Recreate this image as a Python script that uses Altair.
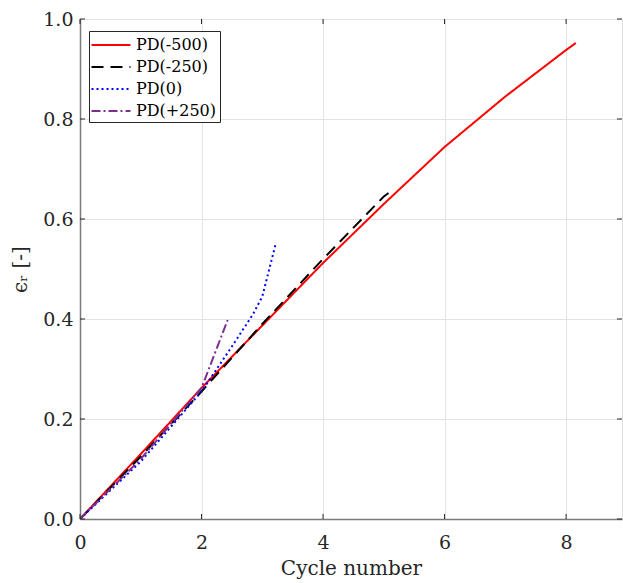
import altair as alt
import pandas as pd

# ---- data ----
x_m500 = [0, 1, 2, 3, 4, 5, 6, 7, 8, 8.16]
y_m500 = [0, 0.13, 0.262, 0.387, 0.512, 0.63, 0.744, 0.845, 0.938, 0.952]

x_m250 = [0, 1, 2, 3, 4, 5, 5.12]
y_m250 = [0, 0.125, 0.255, 0.39, 0.52, 0.645, 0.656]

x_0 = [0, 1, 2, 2.5, 2.85, 3.0, 3.22]
y_0 = [0, 0.115, 0.255, 0.345, 0.41, 0.445, 0.55]

x_p250 = [0, 1, 2, 2.43]
y_p250 = [0, 0.12, 0.262, 0.398]

series_names = ["PD(-500)", "PD(-250)", "PD(0)", "PD(+250)"]
series_colors = ["#ff0000", "#000000", "#0000ff", "#7e2f8e"]
series_dash = [[1, 0], [12, 7], [2, 3], [9, 3, 2, 3]]

x_ticks = [0, 2, 4, 6, 8]
y_ticks = [0, 0.2, 0.4, 0.6, 0.8, 1.0]

rows = []
for name, xs, ys in zip(series_names,
                        [x_m500, x_m250, x_0, x_p250],
                        [y_m500, y_m250, y_0, y_p250]):
    for i, (a, b) in enumerate(zip(xs, ys)):
        rows.append({"series": name, "x": a, "y": b, "order": i})
df = pd.DataFrame(rows)

W, H = 542, 500
FONT = "DejaVu Serif"
AXC = "#262626"
DOMC = "#7a7a7a"

xscale = alt.Scale(domain=[0, 8.92], nice=False, zero=False)
yscale = alt.Scale(domain=[0, 1.0], nice=False)

xaxis = alt.Axis(values=x_ticks, format="d", grid=True, gridColor="#e3e3e3",
                 tickSize=0, labelPadding=14, domainColor=DOMC, domainWidth=1.5,
                 labelFlush=False,
                 labelFont=FONT, labelFontSize=19, labelColor=AXC,
                 titleFont=FONT, titleFontSize=20, titleFontWeight="normal",
                 titleColor=AXC, titlePadding=6)
yaxis = alt.Axis(values=y_ticks, format=".1f", grid=True, gridColor="#e3e3e3",
                 tickSize=0, labelPadding=7, domainColor=DOMC, domainWidth=1.5,
                 labelFlush=False,
                 labelFont=FONT, labelFontSize=19, labelColor=AXC,
                 titleFont=FONT, titleFontSize=20, titleFontWeight="normal",
                 titleColor=AXC, titlePadding=12)

xenc = alt.X("x:Q", scale=xscale, axis=xaxis, title="Cycle number")
yenc = alt.Y("y:Q", scale=yscale, axis=yaxis, title="ϵᵣ [-]")

leg = alt.Legend(title=None, orient="none", legendX=9, legendY=12,
                 symbolType="M-2,0H2", symbolSize=380,
                 symbolStrokeWidth=2, labelFont=FONT,
                 labelFontSize=16, labelColor="#000",
                 rowPadding=3, padding=3,
                 strokeColor="#262626", fillColor="white",
                 symbolOffset=8, labelOffset=14)

lines = alt.Chart(df).mark_line(strokeWidth=2, clip=True).encode(
    x=xenc,
    y=yenc,
    order="order:Q",
    color=alt.Color("series:N", sort=series_names,
                    scale=alt.Scale(domain=series_names, range=series_colors),
                    legend=leg),
    strokeDash=alt.StrokeDash("series:N", sort=series_names,
                              scale=alt.Scale(domain=series_names, range=series_dash),
                              legend=leg),
)

xt = pd.DataFrame({"x": x_ticks})
yt = pd.DataFrame({"y": y_ticks})

tick_b = alt.Chart(xt).mark_rule(color=AXC).encode(x=xenc, y=alt.value(H), y2=alt.value(H - 5))
tick_t = alt.Chart(xt).mark_rule(color=AXC).encode(x=xenc, y=alt.value(0), y2=alt.value(5))
tick_l = alt.Chart(yt).mark_rule(color=AXC).encode(y=yenc, x=alt.value(0), x2=alt.value(5))
tick_r = alt.Chart(yt).mark_rule(color=AXC).encode(y=yenc, x=alt.value(W), x2=alt.value(W - 5))

chart = alt.layer(lines, tick_b, tick_t, tick_l, tick_r).properties(
    width=W, height=H,
    autosize=alt.AutoSizeParams(type="none"),
    padding={"left": 80, "top": 19, "right": 1, "bottom": 64},
).configure_view(stroke=AXC, strokeWidth=1).configure(
    background="white", font=FONT
).configure_axis(labelFont=FONT, titleFont=FONT).configure_legend(labelFont=FONT)

chart.save("out.html", embed_options={"renderer": "svg", "actions": False})
